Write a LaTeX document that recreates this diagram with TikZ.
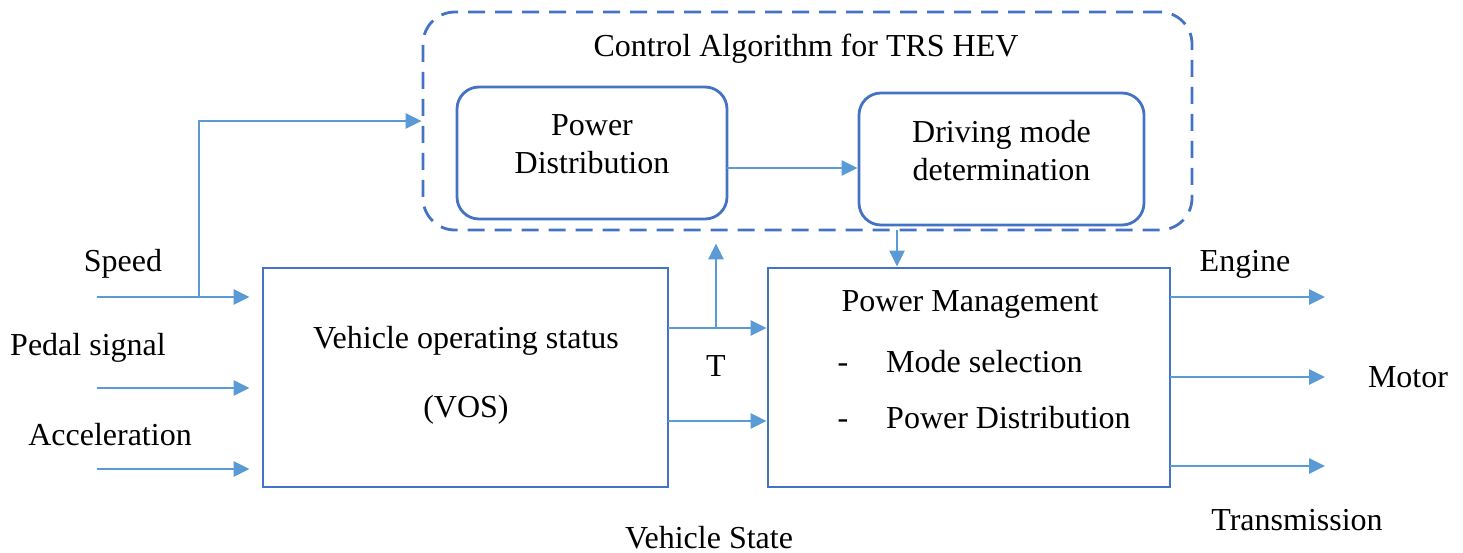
\documentclass[tikz,border=0pt]{standalone}
\usepackage{fontspec}
\setmainfont{Liberation Serif}
\usetikzlibrary{arrows.meta}
\definecolor{boxblue}{HTML}{4472C4}
\definecolor{arrowblue}{HTML}{5B9BD5}
\tikzset{
  box/.style={draw=boxblue, line width=2.8pt, minimum width=#1, inner sep=0pt},
  rbox/.style={draw=boxblue, line width=2.8pt, rounded corners=22pt, inner sep=0pt},
  ctrlbox/.style={draw=boxblue, line width=2.8pt, dash pattern=on 17pt off 10pt, rounded corners=32pt, inner sep=0pt},
  flow/.style={draw=arrowblue, line width=2.6pt, -{Triangle[length=16pt,width=15pt]}},
  lbl/.style={inner sep=0pt, yshift=-3.5pt, align=center, font=\fontsize{32}{38}\selectfont},
  btxt/.style={inner sep=0pt, font=\fontsize{32}{38}\selectfont},
}
\begin{document}
\begin{tikzpicture}[x=1pt, y=-1pt]
\useasboundingbox (0,0) rectangle (1463,552);
% control algorithm frame and its two blocks
\node[ctrlbox, minimum width=769pt, minimum height=218pt] (ctrl) at (807.5,121) {};
\node[lbl] (ctrltitle) at (806,45) {Control Algorithm for TRS HEV};
\node[rbox, minimum width=270pt, minimum height=132pt] (pd) at (592,153) {};
\node[lbl] (pdt) at (592,140.5) {Power\\Distribution};
\node[rbox, minimum width=285pt, minimum height=132pt] (dm) at (1001.5,159) {};
\node[lbl] (dmt) at (1001.5,147.5) {Driving mode\\determination};
% main blocks
\node[box=405pt, minimum height=219pt] (vos) at (465.5,377.5) {};
\node[lbl] (vost1) at (466,337) {Vehicle operating status};
\node[lbl] (vost2) at (466,406) {(VOS)};
\node[box=402pt, minimum height=219pt] (pm) at (969,377.5) {};
\node[lbl] (pmt) at (970,301) {Power Management};
\node[btxt, anchor=base] (dash1) at (843,372) {-};
\node[btxt, anchor=base west] (pmi1) at (886,372) {Mode selection};
\node[btxt, anchor=base] (dash2) at (843,428) {-};
\node[btxt, anchor=base west] (pmi2) at (886,428) {Power Distribution};
% inputs
\node[lbl] (speed) at (123,260) {Speed};
\node[lbl] (pedal) at (88,344) {Pedal signal};
\node[lbl] (accel) at (110,431) {Acceleration};
\coordinate (inS) at (97,297);
\coordinate (inP) at (97,388);
\coordinate (inA) at (97,469);
\coordinate (split) at (199,297);
\coordinate (up) at (199,121);
\draw[flow, shorten >=12pt] (inS) -- (inS -| vos.west);
\draw[flow, shorten >=12pt] (inP) -- (inP -| vos.west);
\draw[flow, shorten >=12pt] (inA) -- (inA -| vos.west);
\draw[flow] (split) -- (up) -- (up -| ctrl.west);
% control internal flow
\coordinate (pdout) at (727,168);
\draw[flow] (pdout) -- (pdout -| dm.west);
\coordinate (dmdown) at (897,230);
\draw[flow] (dmdown) -- (dmdown |- pm.north);
% VOS to power management
\coordinate (tout) at (668,328);
\coordinate (tsplit) at (716,328);
\coordinate (vsout) at (668,421);
\draw[flow] (tout) -- (tout -| pm.west);
\draw[flow, shorten >=12pt] (tsplit) -- (tsplit |- ctrl.south);
\draw[flow] (vsout) -- (vsout -| pm.west);
\node[lbl] (tlbl) at (716,363) {T};
\node[btxt, anchor=base] (vslbl) at (709,548) {Vehicle State};
% outputs
\coordinate (oE) at (1170,297);
\coordinate (oM) at (1170,377);
\coordinate (oT) at (1170,466);
\coordinate (eE) at (1325,297);
\coordinate (eM) at (1325,377);
\coordinate (eT) at (1325,466);
\draw[flow] (oE) -- (eE);
\draw[flow] (oM) -- (eM);
\draw[flow] (oT) -- (eT);
\node[lbl] (engine) at (1245,261) {Engine};
\node[lbl] (motor) at (1408,374) {Motor};
\node[lbl] (trans) at (1297,517) {Transmission};
\end{tikzpicture}
\end{document}
